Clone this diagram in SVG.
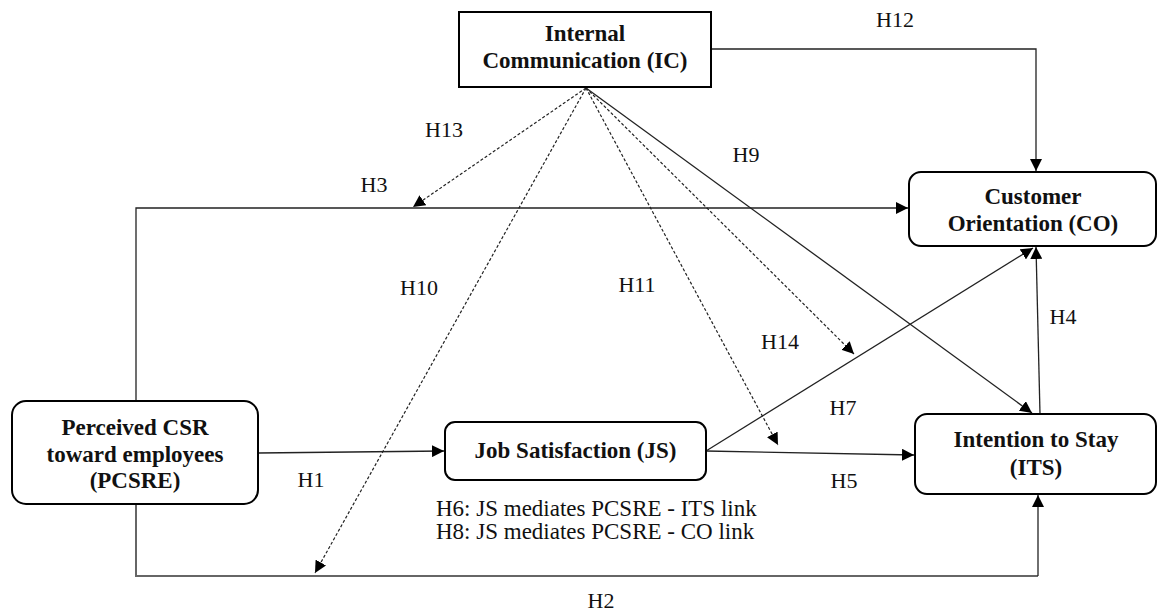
<svg xmlns="http://www.w3.org/2000/svg" width="1158" height="612" viewBox="0 0 1158 612">
<style>
.node{fill:#fff;stroke:#000;stroke-width:2}
.nt{font-family:'Liberation Serif','DejaVu Serif',serif;font-weight:bold;font-size:23px;text-anchor:middle;fill:#111}
.lb{font-family:'Liberation Serif','DejaVu Serif',serif;font-size:22px;text-anchor:middle;fill:#111}
.note{font-family:'Liberation Serif','DejaVu Serif',serif;font-size:23px;fill:#111}
.c{fill:none;stroke:#222;stroke-width:1.3}
.d{fill:none;stroke:#222;stroke-width:1.2;stroke-dasharray:3,2}
.g{fill:none;stroke:#666;stroke-width:2}
</style>
<defs>
<marker id="ah" markerUnits="userSpaceOnUse" markerWidth="14" markerHeight="12" refX="12" refY="6" orient="auto">
<path d="M0,0 L12,6 L0,12 Z" fill="#000"/>
</marker>
</defs>
<g id="connectors">
<polyline class="c" points="711,49 1036,49 1036,171" marker-end="url(#ah)"/>
<polyline class="c" points="136,401 136,208 908,208" marker-end="url(#ah)"/>
<polyline class="g" points="136,504 136,576 1038,576"/>
<line class="c" x1="1038" y1="576" x2="1038" y2="495" marker-end="url(#ah)"/>
<line class="c" x1="258" y1="453" x2="444" y2="451" marker-end="url(#ah)"/>
<line class="c" x1="706" y1="451" x2="914" y2="455" marker-end="url(#ah)"/>
<line class="c" x1="706" y1="451" x2="1033" y2="248" marker-end="url(#ah)"/>
<line class="c" x1="1040" y1="414" x2="1036" y2="247" marker-end="url(#ah)"/>
<line class="c" x1="586" y1="88" x2="1032" y2="413" marker-end="url(#ah)"/>
<line class="d" x1="586" y1="88" x2="413" y2="207" marker-end="url(#ah)"/>
<line class="d" x1="586" y1="88" x2="315" y2="573" marker-end="url(#ah)"/>
<line class="d" x1="586" y1="88" x2="778" y2="445" marker-end="url(#ah)"/>
<line class="d" x1="586" y1="88" x2="854" y2="354" marker-end="url(#ah)"/>
</g>
<g id="IC">
<rect class="node" x="459" y="12" width="252" height="75"/>
<text class="nt" x="585" y="41">Internal</text>
<text class="nt" x="585" y="68">Communication (IC)</text>
</g>
<g id="PCSRE">
<rect class="node" x="12" y="401" width="246" height="103" rx="14"/>
<text class="nt" x="135" y="435">Perceived CSR</text>
<text class="nt" x="135" y="462">toward employees</text>
<text class="nt" x="135" y="488">(PCSRE)</text>
</g>
<g id="JS">
<rect class="node" x="445" y="422" width="261" height="58" rx="10"/>
<text class="nt" x="575.5" y="458">Job Satisfaction (JS)</text>
</g>
<g id="CO">
<rect class="node" x="909" y="172" width="247" height="74" rx="12"/>
<text class="nt" x="1033" y="204">Customer</text>
<text class="nt" x="1033" y="231">Orientation (CO)</text>
</g>
<g id="ITS">
<rect class="node" x="915" y="414" width="241" height="80" rx="12"/>
<text class="nt" x="1036" y="447">Intention to Stay</text>
<text class="nt" x="1036" y="475">(ITS)</text>
</g>
<g id="labels">
<text class="lb" x="895" y="27">H12</text>
<text class="lb" x="444" y="137">H13</text>
<text class="lb" x="374" y="192">H3</text>
<text class="lb" x="746" y="162">H9</text>
<text class="lb" x="419" y="295">H10</text>
<text class="lb" x="637" y="292">H11</text>
<text class="lb" x="780" y="349">H14</text>
<text class="lb" x="1063" y="324">H4</text>
<text class="lb" x="843" y="415">H7</text>
<text class="lb" x="311" y="487">H1</text>
<text class="lb" x="844" y="488">H5</text>
<text class="lb" x="601" y="608">H2</text>
<text class="note" x="436" y="516">H6: JS mediates PCSRE - ITS link</text>
<text class="note" x="436" y="539">H8: JS mediates PCSRE - CO link</text>
</g>
</svg>
